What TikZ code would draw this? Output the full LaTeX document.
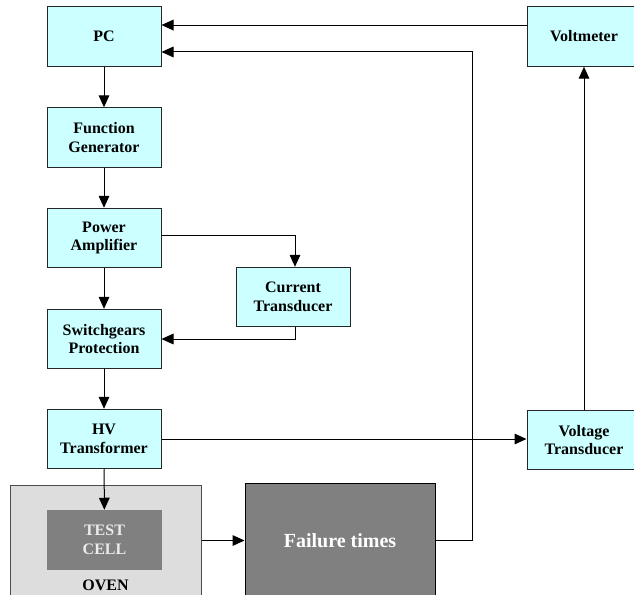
\documentclass[tikz,border=0pt]{standalone}
\usepackage{fontspec}
\setmainfont{Liberation Serif}
\usepackage{xcolor}
\usetikzlibrary{arrows.meta}

\definecolor{boxcyan}{HTML}{CCFFFF}
\definecolor{ovengray}{HTML}{DDDDDD}
\definecolor{cellgray}{HTML}{808080}

\begin{document}
\begin{tikzpicture}[x=0.75pt, y=-0.75pt,
        block/.style={draw=black!85, line width=0.75pt, fill=boxcyan, minimum width=85.5pt, minimum height=44.6pt,
            inner sep=0pt, align=center, font=\bfseries\fontsize{12}{14}\selectfont},
        flow/.style={-{Triangle[length=9pt,width=8pt]}, line width=0.75pt}]
        \clip (0,0) rectangle (634,594);

        \node[block] (pc) at (104,36.5) {PC};
        \node[block] (fg) at (104,137.5) {Function\\Generator};
        \node[block] (pa) at (104,238) {Power\\Amplifier};
        \node[block] (ct) at (293,297) {Current\\Transducer};
        \node[block] (sp) at (104,339) {Switchgears\\Protection};
        \node[block] (hv) at (104,439) {HV\\Transformer};
        \node[block] (vt) at (584,440) {Voltage\\Transducer};
        \node[block] (vm) at (584,36.5) {Voltmeter};

        \node[draw=black!70, line width=0.75pt, fill=ovengray, minimum width=143.25pt, minimum height=84.75pt] (oven) at (105.5,541.5) {};
        \node[font=\bfseries\fontsize{12}{14}\selectfont] (ovenlbl) at (105.5,585) {OVEN};
        \node[fill=cellgray, minimum width=86.25pt, minimum height=45pt, align=center, text=black!8,
            font=\bfseries\fontsize{12}{14}\selectfont] (tc) at (104.5,540) {TEST\\CELL};
        \node[draw=black, line width=0.75pt, fill=cellgray, minimum width=142.5pt, minimum height=86.25pt, text=white,
            font=\bfseries\fontsize{15}{18}\selectfont] (ft) at (340,540.5) {Failure times};

        \draw[flow] (pc) -- (fg);
        \draw[flow] (fg) -- (pa);
        \draw[flow] (pa) -- (sp);
        \draw[flow] (sp) -- (hv);
        \draw[flow] (hv) -- (tc);
        \draw[flow] ([yshift=2pt]pa.east) -| ([xshift=1.5pt]ct.north);
        \draw[flow] ([xshift=1.5pt]ct.south) |- (sp.east);
        \draw[flow] (hv.east) -- (hv.east -| vt.west);
        \draw[flow] (vt.north) -- (vm.south);
        \draw[flow] ([yshift=8.6pt]vm.west) -- ([yshift=8.6pt]pc.east);
        \draw[flow] (oven.east |- ft.west) -- (ft.west);
        \draw[flow] (ft.east) -- ++(37,0) |- ([yshift=-11.6pt]pc.east);
    \end{tikzpicture}
\end{document}
